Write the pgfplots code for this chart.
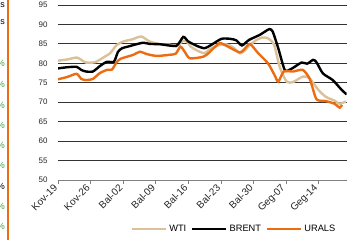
\documentclass[border=0pt]{standalone}
\usepackage{fontspec}
\setmainfont{Liberation Sans}
\usepackage{pgfplots}
\pgfplotsset{compat=1.18}
\definecolor{wti}{RGB}{220,192,152}
\definecolor{urals}{RGB}{236,108,18}
\definecolor{pctgreen}{RGB}{60,160,60}
\begin{document}
\begin{tikzpicture}
\useasboundingbox (0,0) rectangle (350bp,240bp);
\clip (0,0) rectangle (350bp,240bp);
% cropped remnants on the left
\draw[urals, line width=2.6bp] (8bp,0) -- (8bp,240bp);
\foreach \yy in {235,218} {\node[anchor=east, inner sep=0pt, font=\fontsize{9}{10}\selectfont] at (5bp,\yy bp) {ms};}
\foreach \yy in {177,156,135,115,95,75,34,14} {\node[anchor=east, inner sep=0pt, text=pctgreen, font=\fontsize{9}{10}\selectfont] at (5bp,\yy bp) {\%};}
\node[anchor=east, inner sep=0pt, font=\fontsize{9}{10}\selectfont] at (5bp,54bp) {\%};
\begin{axis}[
  at={(58bp,60bp)}, anchor=south west,
  scale only axis, width=288.7bp, height=175bp,
  xmin=0, xmax=62, ymin=50, ymax=95,
  axis x line*=bottom, axis y line*=left,
  y axis line style={draw=none},
  x axis line style={draw=black!50, line width=0.8bp},
  ytick={50,55,...,95},
  ytick style={draw=none},
  xtick={0,7,...,56},
  xticklabels={Kov-19,Kov-26,Bal-02,Bal-09,Bal-16,Bal-23,Bal-30,Geg-07,Geg-14},
  xtick style={draw=black!50, line width=0.8bp},
  tick align=outside, major tick length=4bp,
  ymajorgrids, grid style={draw=black!80, line width=0.8bp},
  /pgf/number format/assume math mode=true,
  yticklabel style={font=\fontsize{8}{9}\selectfont, text=black!85, xshift=-3bp},
  xticklabel style={font=\fontsize{10}{11}\selectfont, text=black!85, rotate=45, anchor=east},
  legend style={at={(0.61,-0.28)}, anchor=center, draw=none, fill=none,
    legend columns=3, font=\fontsize{9.3}{10}\selectfont,
    /tikz/every even column/.append style={column sep=3bp}},
  legend image code/.code={\draw[#1] (0bp,0bp) -- (34bp,0bp);},
  every axis plot/.append style={line width=2.4bp, smooth, tension=0.4},
]
\addplot[wti] coordinates {
(0,80.7)(2,81.0)(4,81.5)(5,80.9)(6,80.2)(8,80.3)(10,81.7)(11.2,82.6)(12.6,84.7)(14,85.6)(16,86.2)(17.9,86.9)(19.7,85.6)(21.9,84.9)(24,84.8)(25.4,84.4)(26.9,85.8)(27.8,85.4)(28.5,84.3)(30,83.2)(31.5,82.6)(32.5,83.6)(34.4,84.6)(36,84.9)(37.5,84.2)(39.1,82.6)(40,83.2)(41.2,84.7)(42.5,85.9)(43.7,86.6)(45,86.5)(46.4,84.8)(47.6,79.1)(49.1,75.3)(50.5,75.2)(52.6,76.6)(54,76.2)(55.9,73.2)(57.5,71.4)(59.4,70.4)(60.5,69.6)(61.8,70.2)
};
\addlegendentry{WTI}
\addplot[black] coordinates {
(0,78.7)(2,79.0)(4,79.1)(5,78.3)(6,77.9)(7.5,77.9)(9,79.3)(10.5,80.4)(12,80.4)(12.9,83.0)(13.8,83.9)(15,84.3)(16.5,84.8)(18.3,85.3)(19.7,85.0)(22,84.9)(25.4,84.5)(26.9,86.8)(28,85.6)(30,84.4)(31.5,83.9)(33,84.8)(35.1,86.3)(37,86.3)(38.3,85.9)(39.5,84.6)(41,86.0)(43.3,87.3)(44.5,88.2)(45.4,88.8)(46.1,88.2)(47.3,83.9)(48.7,78.3)(50,78.5)(52.3,80.2)(53.5,79.9)(54.8,80.9)(55.5,80.3)(56.9,77.4)(59,75.7)(60.9,73.2)(62,72.0)
};
\addlegendentry{BRENT}
\addplot[urals] coordinates {
(0,75.9)(2,76.5)(4,77.3)(5,76.0)(6,75.7)(7.5,76.0)(9,77.5)(10.5,78.3)(11.6,78.4)(12.6,80.3)(13.5,81.2)(16.2,82.2)(17.6,83.0)(19,82.4)(21.2,81.9)(24,82.2)(25.3,82.5)(26.3,84.3)(27.2,83.0)(28.3,81.3)(31.2,81.7)(32.5,82.8)(33.5,84.0)(34.8,85.2)(36.5,84.3)(39,82.8)(40,83.6)(41.2,85.0)(43,82.6)(45.1,80.0)(46.5,77.0)(47.3,75.3)(48.5,77.9)(50.5,77.9)(52.6,78.3)(54.1,75.9)(55.5,70.8)(57.5,70.3)(59.4,69.6)(60.5,68.6)(61,69.3)
};
\addlegendentry{URALS}
\end{axis}
\end{tikzpicture}
\end{document}
